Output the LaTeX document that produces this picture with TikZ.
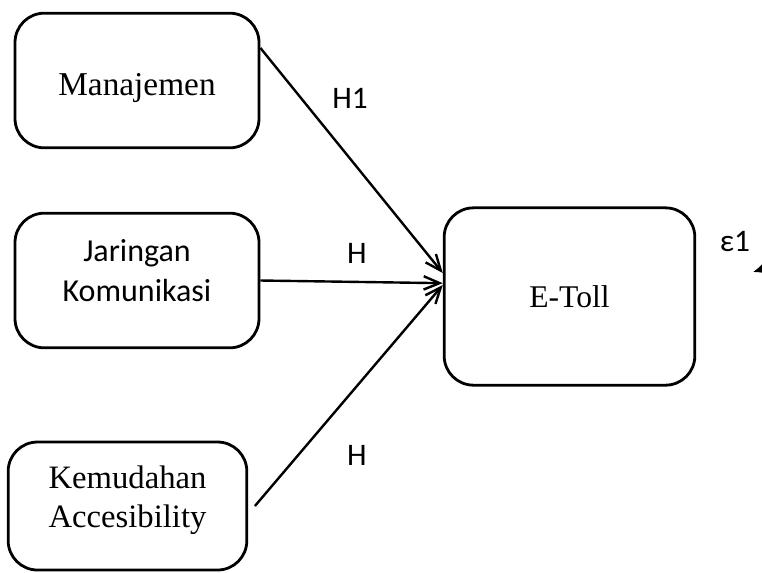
\documentclass[tikz,border=0pt]{standalone}
\usepackage{fontspec}
\setmainfont{Liberation Serif}
\newfontfamily\carlfont{Carlito}
\usetikzlibrary{arrows.meta}
\begin{document}
\begin{tikzpicture}[x=0.75pt,y=-0.75pt,
  box/.style={draw,line width=2.1pt,rounded corners=22pt,align=center,inner sep=0pt},
  link/.style={line width=1.8pt,-{Straight Barb[length=12pt,width=10pt,line width=1.8pt]}},
  lab/.style={font=\carlfont\fontsize{23.5}{28}\selectfont,inner sep=0pt}]
\useasboundingbox (0,0) rectangle (762,572);
\node[box,minimum width=183pt,minimum height=101pt,text height=22pt,text depth=0pt,font=\fontsize{25}{30}\selectfont] (man) at (137,80.5) {Manajemen};
\node[box,minimum width=183pt,minimum height=101pt,text height=46pt,text depth=13.8pt,font=\carlfont\fontsize{24}{30}\selectfont] (jar) at (137,280.5) {Jaringan\\Komunikasi};
\node[box,minimum width=179pt,minimum height=96pt,text height=46.25pt,text depth=14.75pt,font=\fontsize{24.5}{29.25}\selectfont] (kem) at (127.5,506) {Kemudahan\\Accesibility};
\node[box,minimum width=188pt,minimum height=133pt,font=\fontsize{23.7}{28}\selectfont] (etoll) at (569.5,296.5) {E-Toll};
\draw[link] ([yshift=24.4pt]man.east) -- ([yshift=17.6pt]etoll.west);
\draw[link] (jar.east) -- ([yshift=10pt]etoll.west);
\draw[link] ([xshift=5pt]kem.east) -- ([yshift=8.6pt]etoll.west);
\node[lab] (h1) at (350,98) {H1};
\node[lab] (h2) at (357,253) {H};
\node[lab] (h3) at (357,455) {H};
\node[lab] (eps) at (735,242) {ε1};
\coordinate (epsfrom) at (785,262);
\coordinate (epsto) at (753,272);
\draw[line width=1.8pt,-{Latex[length=11pt,width=11pt]}] (epsfrom) -- (epsto);
\end{tikzpicture}
\end{document}
